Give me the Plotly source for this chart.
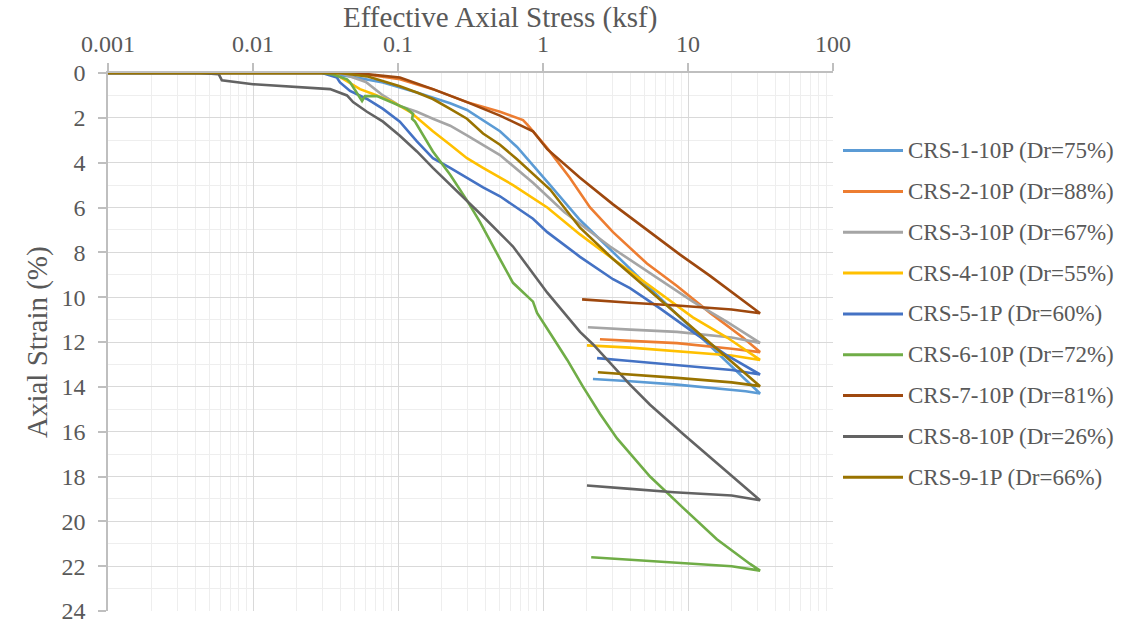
import plotly.graph_objects as go

# Constant-rate-of-strain consolidation tests: effective axial stress (ksf)
# vs axial strain (%), loading to ~31 ksf followed by unloading.
series_names = [
    "CRS-1-10P (Dr=75%)", "CRS-2-10P (Dr=88%)", "CRS-3-10P (Dr=67%)",
    "CRS-4-10P (Dr=55%)", "CRS-5-1P (Dr=60%)", "CRS-6-10P (Dr=72%)",
    "CRS-7-10P (Dr=81%)", "CRS-8-10P (Dr=26%)", "CRS-9-1P (Dr=66%)",
]
series_colors = ["#5B9BD5", "#ED7D31", "#A5A5A5", "#FFC000", "#4472C4",
                 "#70AD47", "#9E480E", "#636363", "#997300"]

crs1_stress = [0.001, 0.03, 0.0467, 0.0788, 0.135, 0.174, 0.229, 0.299, 0.386, 0.505, 0.662,
               0.853, 1.12, 1.80, 3.04, 5.21, 8.81, 14.9, 23.9, 31.4, 25, 15, 8.4, 4.0, 2.21]
crs1_strain = [0, 0, 0.15, 0.42, 0.87, 1.1, 1.35, 1.65, 2.1, 2.6, 3.3,
               4.1, 5.0, 6.56, 8.0, 9.45, 10.9, 12.3, 13.55, 14.3, 14.2, 14.05, 13.9, 13.75, 13.65]

crs2_stress = [0.001, 0.04, 0.0611, 0.103, 0.174, 0.299, 0.505, 0.728, 0.78, 1.07, 1.53, 2.11,
               3.04, 5.21, 8.4, 14.2, 23.9, 31.4, 20, 8.4, 4.0, 2.47]
crs2_strain = [0, 0, 0.07, 0.28, 0.72, 1.3, 1.73, 2.1, 2.3, 3.35, 4.67, 6.0,
               7.1, 8.5, 9.5, 10.7, 11.8, 12.45, 12.3, 12.05, 11.95, 11.88]

crs3_stress = [0.001, 0.04, 0.06, 0.0788, 0.103, 0.135, 0.174, 0.229, 0.299, 0.386, 0.505,
               0.853, 1.4, 2.9, 6.41, 10.8, 18.6, 31.4, 20, 8.4, 4.0, 2.04]
crs3_strain = [0, 0, 0.4, 1.0, 1.47, 1.73, 2.04, 2.35, 2.78, 3.2, 3.66,
               4.9, 6.2, 7.74, 9.2, 10.2, 11.1, 12.04, 11.8, 11.55, 11.45, 11.34]

crs4_stress = [0.001, 0.03, 0.0379, 0.0547, 0.0673, 0.0925, 0.121, 0.142, 0.174, 0.229, 0.299,
               0.386, 0.505, 0.621, 1.07, 1.80, 3.04, 5.21, 10.8, 18.6, 31.4, 20, 8.4, 4.0, 2.01]
crs4_strain = [0, 0, 0.1, 0.72, 0.94, 1.3, 1.73, 2.13, 2.6, 3.2, 3.8,
               4.23, 4.67, 5.0, 6.0, 7.2, 8.3, 9.4, 10.9, 11.8, 12.8, 12.6, 12.4, 12.25, 12.15]

crs5_stress = [0.001, 0.03, 0.0379, 0.0398, 0.0467, 0.0611, 0.0788, 0.103, 0.135, 0.174, 0.229,
               0.299, 0.386, 0.505, 0.662, 0.853, 1.07, 1.80, 3.04, 3.98, 6.41, 10.8, 18.6, 31.4,
               20, 8.4, 4.0, 2.36]
crs5_strain = [0, 0, 0.2, 0.42, 0.8, 1.16, 1.6, 2.17, 3.05, 3.8, 4.23,
               4.67, 5.1, 5.5, 6.0, 6.5, 7.1, 8.2, 9.2, 9.6, 10.5, 11.55, 12.6, 13.45,
               13.25, 13.05, 12.85, 12.72]

crs6_stress = [0.001, 0.03, 0.0356, 0.0445, 0.0467, 0.0565, 0.0592, 0.0716, 0.115, 0.127, 0.125,
               0.131, 0.174, 0.229, 0.299, 0.368, 0.505, 0.621, 0.853, 0.91, 1.17, 1.47, 1.89,
               2.47, 3.24, 5.47, 9.25, 15.8, 26.8, 31.4, 20, 8.4, 4.0, 2.15]
crs6_strain = [0, 0, 0.07, 0.28, 0.42, 1.25, 1.03, 1.03, 1.6, 1.82, 2.04,
               2.17, 3.5, 4.54, 5.68, 6.65, 8.3, 9.36, 10.2, 10.7, 11.8, 12.8, 14.0,
               15.2, 16.3, 18.0, 19.4, 20.8, 21.9, 22.2, 22.0, 21.85, 21.7, 21.6]

crs7_stress = [0.001, 0.04, 0.0611, 0.103, 0.174, 0.299, 0.505, 0.853, 1.07, 1.80, 3.04,
               5.21, 8.81, 14.2, 21.8, 31.4, 20, 8.4, 4.0, 1.86]
crs7_strain = [0, 0, 0.05, 0.2, 0.72, 1.3, 1.9, 2.6, 3.4, 4.67, 5.86,
               7.0, 8.1, 9.05, 9.95, 10.72, 10.55, 10.37, 10.25, 10.1]

crs8_stress = [0.001, 0.0043, 0.0058, 0.0061, 0.01, 0.0211, 0.034, 0.0445, 0.049, 0.0611, 0.0788,
               0.103, 0.135, 0.174, 0.229, 0.299, 0.386, 0.621, 1.07, 1.80, 2.21, 3.98, 5.47,
               9.25, 15.8, 26.8, 31.4, 20, 8.0, 4.0, 2.01]
crs8_strain = [0, 0, 0.05, 0.33, 0.5, 0.64, 0.72, 1.0, 1.3, 1.73, 2.17,
               2.8, 3.5, 4.23, 4.97, 5.68, 6.4, 7.74, 9.8, 11.55, 12.1, 13.9, 14.8,
               16.1, 17.4, 18.65, 19.06, 18.85, 18.7, 18.55, 18.4]

crs9_stress = [0.001, 0.04, 0.0611, 0.103, 0.135, 0.174, 0.229, 0.299, 0.386, 0.505, 0.662,
               0.853, 1.12, 1.80, 3.04, 5.21, 10.8, 18.6, 31.4, 20, 8.4, 4.0, 2.39]
crs9_strain = [0, 0, 0.15, 0.59, 0.87, 1.16, 1.6, 2.04, 2.7, 3.2, 3.85,
               4.5, 5.2, 6.9, 8.3, 9.6, 11.4, 12.7, 13.97, 13.8, 13.6, 13.45, 13.35]

x_tick_values = [0.001, 0.01, 0.1, 1, 10, 100]
x_tick_labels = ["0.001", "0.01", "0.1", "1", "10", "100"]
y_tick_values = list(range(0, 25, 2))

stress_sets = [crs1_stress, crs2_stress, crs3_stress, crs4_stress, crs5_stress,
               crs6_stress, crs7_stress, crs8_stress, crs9_stress]
strain_sets = [crs1_strain, crs2_strain, crs3_strain, crs4_strain, crs5_strain,
               crs6_strain, crs7_strain, crs8_strain, crs9_strain]

FONT = "Liberation Serif"
TEXT_COLOR = "#595959"
W, H = 1145, 636
M_L, M_R, M_T, M_B = 108, 312, 73, 15
PLOT_W = W - M_L - M_R
PLOT_H = H - M_T - M_B


def px_to_paper_x(px):
    return (px - M_L) / PLOT_W


def px_to_paper_y(py):
    return (H - M_B - py) / PLOT_H


fig = go.Figure()
for name, color, xs, ys in zip(series_names, series_colors, stress_sets, strain_sets):
    fig.add_trace(go.Scatter(
        x=xs, y=ys, mode="lines", name=name,
        line=dict(color=color, width=2.6),
        showlegend=False,
    ))

# minor log gridlines at 2..9 of every decade
minor_x = [m * 10.0 ** e for e in range(-3, 2) for m in range(2, 10)]

fig.update_xaxes(
    type="log", range=[-3, 2], side="top",
    tickmode="array", tickvals=x_tick_values, ticktext=x_tick_labels,
    tickfont=dict(family=FONT, size=24, color=TEXT_COLOR),
    ticks="outside", ticklen=8, tickcolor="#BFBFBF", tickwidth=1.5,
    ticklabelstandoff=2,
    showline=True, linecolor="#BFBFBF", linewidth=1.5,
    showgrid=True, gridcolor="#D9D9D9", gridwidth=1,
    minor=dict(tickmode="array", tickvals=minor_x, showgrid=True,
               gridcolor="#EEEEEE", gridwidth=1, ticks=""),
    zeroline=False,
)
fig.update_yaxes(
    range=[24, 0], tickmode="array", tickvals=y_tick_values,
    tickfont=dict(family=FONT, size=24, color=TEXT_COLOR),
    ticks="outside", ticklen=8, tickcolor="#BFBFBF", tickwidth=1.5,
    ticklabelstandoff=8,
    showline=True, linecolor="#BFBFBF", linewidth=1.5,
    showgrid=True, gridcolor="#D9D9D9", gridwidth=1,
    minor=dict(dtick=1, showgrid=True, gridcolor="#EEEEEE", gridwidth=1, ticks=""),
    zeroline=False,
)

annotations = [
    dict(text="Effective Axial Stress (ksf)", xref="paper", yref="paper",
         x=px_to_paper_x(500), y=px_to_paper_y(16), xanchor="center", yanchor="middle",
         showarrow=False, font=dict(family=FONT, size=29, color=TEXT_COLOR)),
    dict(text="Axial Strain (%)", xref="paper", yref="paper",
         x=px_to_paper_x(37), y=0.5, xanchor="center", yanchor="middle", textangle=-90,
         showarrow=False, font=dict(family=FONT, size=29, color=TEXT_COLOR)),
]

# legend drawn as line samples plus labels on the right
shapes = []
LEG_X0, LEG_X1, LEG_TEXT_X = 843, 903, 906
LEG_Y0, LEG_DY = 152, 41.6
for i, (name, color) in enumerate(zip(series_names, series_colors)):
    yy = px_to_paper_y(LEG_Y0 + i * LEG_DY)
    shapes.append(dict(type="line", xref="paper", yref="paper",
                       x0=px_to_paper_x(LEG_X0), x1=px_to_paper_x(LEG_X1), y0=yy, y1=yy,
                       line=dict(color=color, width=3)))
    annotations.append(dict(text=name, xref="paper", yref="paper",
                            x=px_to_paper_x(LEG_TEXT_X), y=yy, xanchor="left", yanchor="middle",
                            showarrow=False, font=dict(family=FONT, size=23, color=TEXT_COLOR)))

fig.update_layout(
    width=W, height=H,
    margin=dict(l=M_L, r=M_R, t=M_T, b=M_B),
    paper_bgcolor="white", plot_bgcolor="white",
    showlegend=False,
    annotations=annotations, shapes=shapes,
)

fig.write_html("out.html")
